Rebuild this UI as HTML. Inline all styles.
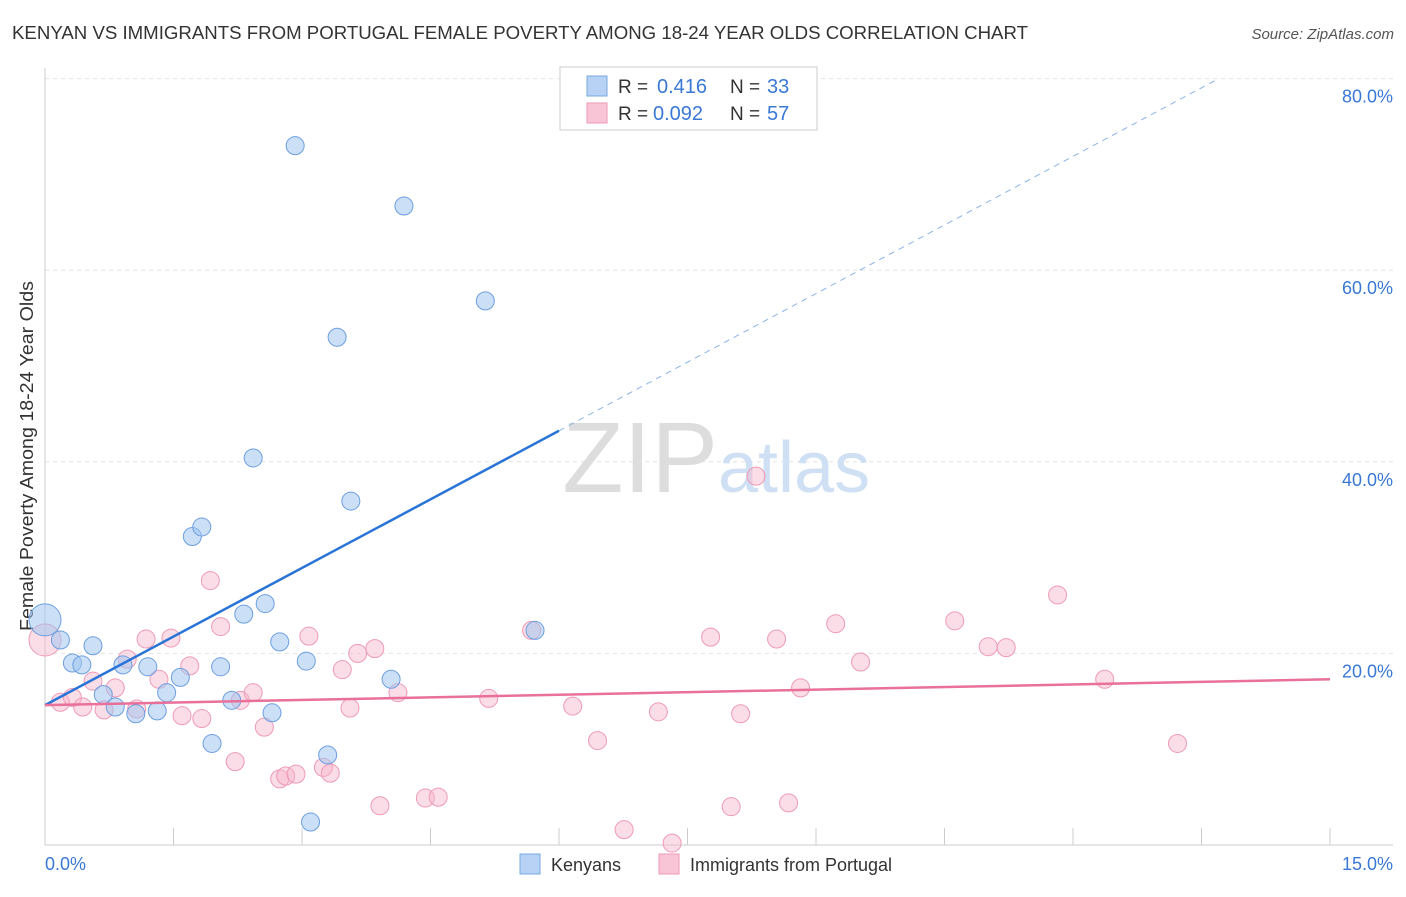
<!DOCTYPE html>
<html><head><meta charset="utf-8"><style>
body{margin:0;background:#fff;font-family:"Liberation Sans",sans-serif;}
svg text{font-family:"Liberation Sans",sans-serif;}
</style></head><body>
<svg id="chart" width="1406" height="892">
<text x="12" y="39" font-size="18" fill="#333" textLength="1016" lengthAdjust="spacingAndGlyphs">KENYAN VS IMMIGRANTS FROM PORTUGAL FEMALE POVERTY AMONG 18-24 YEAR OLDS CORRELATION CHART</text>
<text x="1394" y="39" font-size="15" fill="#555" text-anchor="end" font-style="italic">Source: ZipAtlas.com</text>
<text x="33" y="456" font-size="18" fill="#333" text-anchor="middle" transform="rotate(-90 33 456)" textLength="350" lengthAdjust="spacingAndGlyphs">Female Poverty Among 18-24 Year Olds</text>
<g id="grid"></g>
<text x="718" y="492" font-size="100" fill="#ddd" text-anchor="end" font-family="Liberation Serif">ZIP</text>
<text x="718" y="492" font-size="72" fill="#cfe0f4">atlas</text>
<g id="marks"></g>
<g>
<rect x="560" y="67" width="257" height="63" fill="#fff" stroke="#ccc"/>
<rect x="587" y="76" width="20" height="20" fill="#b7d2f4" stroke="#7aa8e2"/>
<rect x="587" y="103" width="20" height="20" fill="#f8c5d6" stroke="#ee9ab6"/>
<text x="618" y="93" font-size="19" fill="#333">R =</text>
<text x="657" y="93" font-size="20" fill="#3a78d6">0.416</text>
<text x="730" y="93" font-size="19" fill="#333">N =</text>
<text x="767" y="93" font-size="20" fill="#3a78d6">33</text>
<text x="618" y="120" font-size="19" fill="#333">R =</text>
<text x="653" y="120" font-size="20" fill="#3a78d6">0.092</text>
<text x="730" y="120" font-size="19" fill="#333">N =</text>
<text x="767" y="120" font-size="20" fill="#3a78d6">57</text>
</g>
<g>
<rect x="520" y="854" width="20" height="20" fill="#b7d2f4" stroke="#7aa8e2"/>
<text x="551" y="871" font-size="18" fill="#333">Kenyans</text>
<rect x="659" y="854" width="20" height="20" fill="#f8c5d6" stroke="#ee9ab6"/>
<text x="690" y="871" font-size="18" fill="#333">Immigrants from Portugal</text>
</g>
</svg>
<script>
const yTicks=[20,40,60,80];
const yTickLabels=["20.0%","40.0%","60.0%","80.0%"];
const kenX=[0,.18,.32,.43,.56,.68,.82,.91,1.06,1.20,1.31,1.42,1.58,1.72,1.83,1.95,2.05,2.18,2.32,2.43,2.57,2.65,2.74,2.92,3.05,3.10,3.30,3.41,3.57,4.04,4.19,5.14,5.72];
const kenY=[23.5,21.4,19.0,18.8,20.8,15.7,14.4,18.8,13.7,18.6,14.0,15.9,17.5,32.2,33.2,10.6,18.6,15.1,24.1,40.4,25.2,13.8,21.2,73.0,19.2,2.4,9.4,53.0,35.9,17.3,66.7,56.8,22.4];
const porX=[0,.18,.32,.44,.56,.69,.82,.96,1.07,1.18,1.33,1.47,1.60,1.69,1.83,1.93,2.05,2.22,2.28,2.43,2.56,2.74,2.81,2.93,3.08,3.25,3.33,3.47,3.56,3.65,3.85,3.91,4.12,4.44,4.59,5.18,5.68,6.16,6.45,6.76,7.16,7.32,7.77,8.01,8.12,8.30,8.54,8.68,8.82,9.23,9.52,10.62,11.01,11.22,11.82,12.37,13.22];
const porY=[21.4,14.9,15.4,14.4,17.1,14.1,16.4,19.4,14.2,21.5,17.3,21.6,13.5,18.7,13.2,27.6,22.8,8.7,15.1,15.9,12.3,6.9,7.2,7.4,21.8,8.1,7.5,18.3,14.3,20.0,20.5,4.1,15.9,4.9,5.0,15.3,22.4,14.5,10.9,1.6,13.9,0.2,21.7,4.0,13.7,38.5,21.5,4.4,16.4,23.1,19.1,23.4,20.7,20.6,26.1,17.3,10.6];
const kenTrend=[14.6,86.2];
const porTrend=[14.6,17.3];
const NS="http://www.w3.org/2000/svg";
const sx=v=>45+v*(1285/15);
const sy=v=>845-v*9.58;
function mk(t,a,p){const e=document.createElementNS(NS,t);for(const k in a)e.setAttribute(k,a[k]);p.appendChild(e);return e;}
const g=document.getElementById('grid'),m=document.getElementById('marks');
yTicks.forEach((t,i)=>{
 const l=mk('line',{x1:45,x2:1393,y1:sy(t),y2:sy(t),stroke:'#e3e3e3','stroke-dasharray':'4,4'},g);
 
 
 const tx=mk('text',{x:1393,y:sy(t)+24,'font-size':18,fill:'#3a78d6','text-anchor':'end'},g);
 tx.textContent=yTickLabels[i];
 
 
});
mk('line',{x1:45,x2:45,y1:68,y2:845,stroke:'#ccc'},g);
mk('line',{x1:45,x2:1393,y1:845,y2:845,stroke:'#ccc'},g);
for(let i=1;i<=10;i++){mk('line',{x1:sx(i*1.5),x2:sx(i*1.5),y1:828,y2:845,stroke:'#ccc'},g);}
const x0=mk('text',{x:45,y:870,'font-size':18,fill:'#3a78d6'},g);x0.textContent='0.0%';


const x1=mk('text',{x:1393,y:870,'font-size':18,fill:'#3a78d6','text-anchor':'end'},g);x1.textContent='15.0%';


function dot(x,y,r,f,s,name){const c=mk('circle',{cx:sx(x),cy:sy(y),r:r,fill:f,stroke:s,'stroke-width':1},m);
 
 }
porX.forEach((x,i)=>dot(x,porY[i],i===0?16:9,'rgba(246,180,202,0.45)','#ee9ab6','portugal-point'));
kenX.forEach((x,i)=>dot(x,kenY[i],i===0?16:9,'rgba(160,196,240,0.55)','#6d9fe0','kenyan-point'));
const xe=(kenTrend[0]+(kenTrend[1]-kenTrend[0])*6/15);
const ks=mk('line',{x1:sx(0),y1:sy(kenTrend[0]),x2:sx(6),y2:sy(xe),stroke:'#2a74d8','stroke-width':2.5},m);


const xEnd=(80-kenTrend[0])/(kenTrend[1]-kenTrend[0])*15;
const kd=mk('line',{x1:sx(6),y1:sy(xe),x2:sx(xEnd),y2:sy(80),stroke:'#8bb3e8','stroke-width':1,'stroke-dasharray':'6,5'},m);


const pl=mk('line',{x1:sx(0),y1:sy(porTrend[0]),x2:sx(15),y2:sy(porTrend[1]),stroke:'#e8709a','stroke-width':2.5},m);


</script>
</body></html>
